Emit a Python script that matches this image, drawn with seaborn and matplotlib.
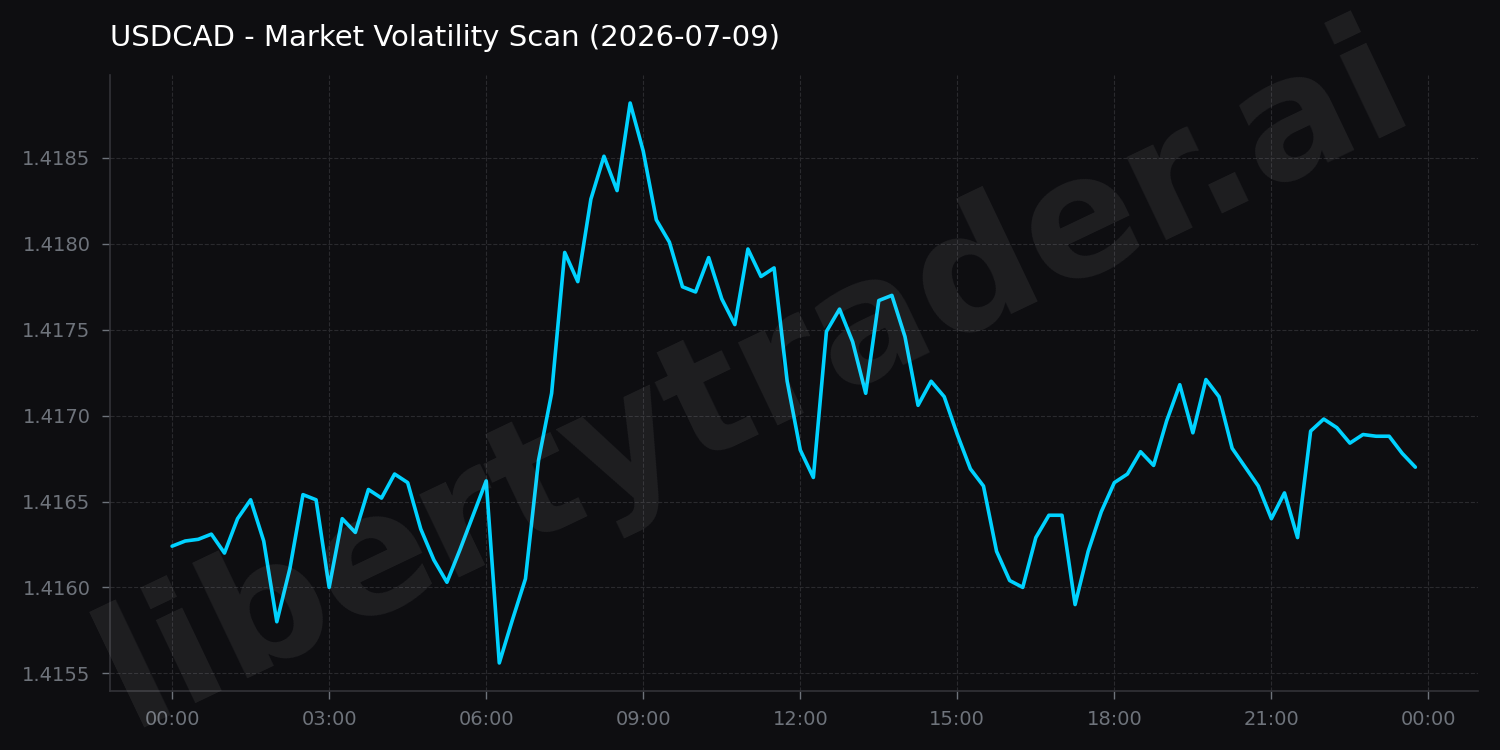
import numpy as np
import pandas as pd
import matplotlib
matplotlib.use("Agg")
import matplotlib.pyplot as plt
import matplotlib.dates as mdates
import seaborn as sns

title = "USDCAD - Market Volatility Scan (2026-07-09)"
watermark = "libertytrader.ai"
start_time = "2026-07-09 00:00"
interval = "15min"

prices = [
    1.41624, 1.41627, 1.41628, 1.41631, 1.41620, 1.41640, 1.41651, 1.41627,
    1.41580, 1.41611, 1.41654, 1.41651, 1.41600, 1.41640, 1.41632, 1.41657,
    1.41652, 1.41666, 1.41661, 1.41634, 1.41616, 1.41603, 1.41622, 1.41642,
    1.41662, 1.41556, 1.41581, 1.41605, 1.41674, 1.41713, 1.41795, 1.41778,
    1.41826, 1.41851, 1.41831, 1.41882, 1.41854, 1.41814, 1.41801, 1.41775,
    1.41772, 1.41792, 1.41768, 1.41753, 1.41797, 1.41781, 1.41786, 1.41720,
    1.41680, 1.41664, 1.41749, 1.41762, 1.41743, 1.41713, 1.41767, 1.41770,
    1.41746, 1.41706, 1.41720, 1.41711, 1.41689, 1.41669, 1.41659, 1.41621,
    1.41604, 1.41600, 1.41629, 1.41642, 1.41642, 1.41590, 1.41621, 1.41644,
    1.41661, 1.41666, 1.41679, 1.41671, 1.41697, 1.41718, 1.41690, 1.41721,
    1.41711, 1.41681, 1.41670, 1.41659, 1.41640, 1.41655, 1.41629, 1.41691,
    1.41698, 1.41693, 1.41684, 1.41689, 1.41688, 1.41688, 1.41678, 1.41670,
]

times = pd.date_range(start_time, periods=len(prices), freq=interval)
df = pd.DataFrame({"time": times, "price": prices})

bg = "#0e0e11"
sns.set_theme(style="dark")
plt.rcParams["font.family"] = ["DejaVu Sans"]

fig = plt.figure(figsize=(15, 7.5), dpi=100, facecolor=bg)
ax = fig.add_axes([0.0733, 0.0787, 0.9117, 0.8213])
ax.set_facecolor(bg)

fig.text(0.503, 0.495, watermark, fontsize=121, fontweight="bold", color="white",
         alpha=0.07, rotation=25.5, ha="center", va="center", zorder=0)

sns.lineplot(data=df, x="time", y="price", ax=ax, color="#00d2ff", linewidth=2.6, zorder=3)

ax.xaxis.set_major_locator(mdates.HourLocator(byhour=range(0, 24, 3)))
ax.xaxis.set_major_formatter(mdates.DateFormatter("%H:%M"))
ax.yaxis.set_major_formatter(matplotlib.ticker.FormatStrFormatter("%.4f"))
ax.set_yticks([1.4155, 1.4160, 1.4165, 1.4170, 1.4175, 1.4180, 1.4185])

ax.set_xlabel("")
ax.set_ylabel("")
ax.grid(True, color="#2a2a2e", linestyle="--", linewidth=0.8)
for s in ["top", "right"]:
    ax.spines[s].set_visible(False)
for s in ["left", "bottom"]:
    ax.spines[s].set_visible(True)
    ax.spines[s].set_color("#333338")
    ax.spines[s].set_linewidth(1.2)
ax.tick_params(axis="both", colors="#6e737b", labelsize=14, length=6, width=1,
               bottom=True, left=True, pad=8)

ax.set_title(title, loc="left", color="white", fontsize=21, pad=21)

fig.savefig("out.png", dpi=100, facecolor=bg)
